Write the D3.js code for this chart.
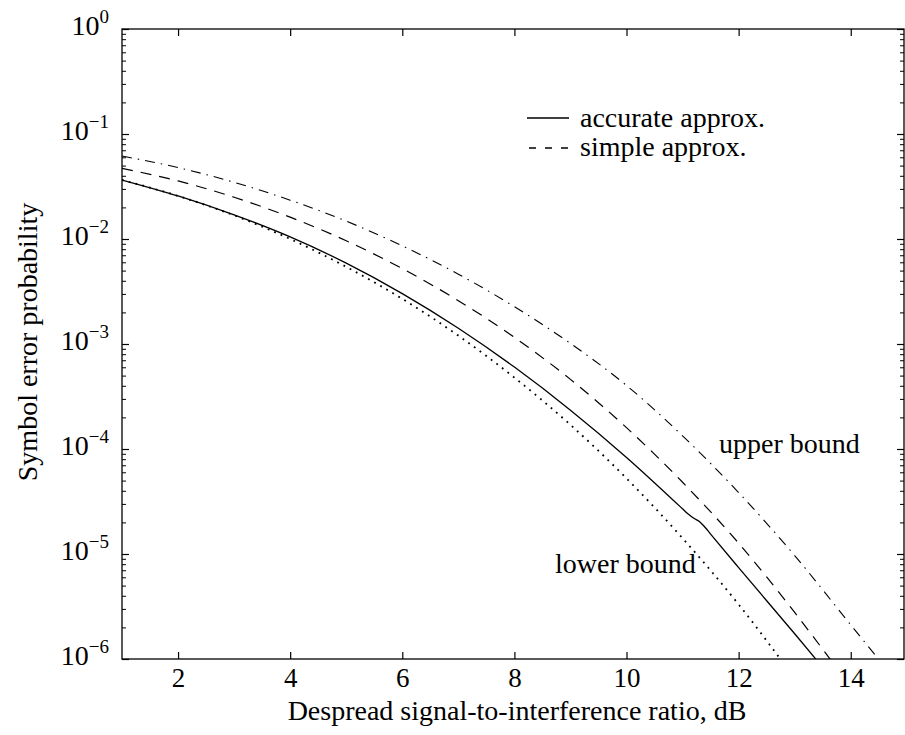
<!DOCTYPE html>
<html>
<head>
<meta charset="utf-8">
<script src="https://cdn.jsdelivr.net/npm/d3@7"></script>
<style>
  body { margin: 0; background: #fff; }
  svg { display: block; font-family: "Liberation Serif", "DejaVu Serif", serif; }
</style>
</head>
<body>
<div id="chart"></div>
<script>
// ----------------------------
// Data
// ----------------------------

// x values in dB, y values are symbol error probabilities
const accurateX = [1, 2, 3, 4, 5, 6, 7, 8, 9, 10, 11, 11.1, 11.2, 11.3, 11.4, 11.5, 12, 13, 13.5];
const accurateP = [0.03648, 0.02570, 0.01698, 0.01047, 0.005888, 0.003020, 0.001413, 6.026e-4, 2.344e-4,
                   8.318e-5, 2.692e-5, 2.399e-5, 2.188e-5, 2.042e-5, 1.799e-5, 1.549e-5, 7.413e-6,
                   1.738e-6, 8.318e-7];

const simpleX = [1, 2, 3, 4, 5, 6, 7, 8, 9, 10, 11, 12, 13, 13.7];
const simpleP = [0.04710, 0.03573, 0.02500, 0.01614, 0.009616, 0.005224, 0.002588, 0.001156, 4.603e-4,
                 1.596e-4, 4.819e-5, 1.268e-5, 2.773e-6, 8.913e-7];

const upperX = [1, 2, 3, 4, 5, 6, 7, 8, 9, 10, 11, 12, 13, 14, 14.6];
const upperP = [0.06166, 0.04786, 0.03467, 0.02344, 0.01479, 0.008610, 0.004624, 0.002265, 0.001012,
                4.027e-4, 1.334e-4, 3.846e-5, 9.661e-6, 2.113e-6, 8.511e-7];

const lowerX = [1, 2, 3, 4, 5, 6, 7, 8, 9, 10, 11, 12, 12.8];
const lowerP = [0.03648, 0.02570, 0.01679, 0.01000, 0.005433, 0.002692, 0.001202, 4.786e-4, 1.698e-4,
                5.248e-5, 1.413e-5, 3.311e-6, 9.120e-7];

const xTickValues = [2, 4, 6, 8, 10, 12, 14];
const yExponents = [0, -1, -2, -3, -4, -5, -6];

const legendLabels = ["accurate approx.", "simple approx."];

// ----------------------------
// Layout
// ----------------------------
const width = 905;
const height = 735;
const marginLeft = 122;
const marginRight = 1;
const marginTop = 29;
const marginBottom = 76;

const x = d3.scaleLinear()
    .domain([1, 14.95])
    .range([marginLeft, width - marginRight]);

const y = d3.scaleLog()
    .domain([1e-6, 1])
    .range([height - marginBottom, marginTop]);

const svg = d3.create("svg")
    .attr("width", width)
    .attr("height", height)
    .attr("viewBox", [0, 0, width, height]);

svg.append("defs").append("clipPath")
    .attr("id", "plotClip")
  .append("rect")
    .attr("x", x(1))
    .attr("y", y(1))
    .attr("width", x(14.95) - x(1))
    .attr("height", y(1e-6) - y(1));

// minor tick values for the log axis
const minorTicks = [];
yExponents.slice(1).forEach(e => {
    for (let k = 2; k <= 9; k++) minorTicks.push(k * Math.pow(10, e));
});

// ----------------------------
// Axes (ticks point inward on all four sides)
// ----------------------------
svg.append("rect")
    .attr("x", x(1))
    .attr("y", y(1))
    .attr("width", x(14.95) - x(1))
    .attr("height", y(1e-6) - y(1))
    .attr("fill", "none")
    .attr("stroke", "#000")
    .attr("stroke-width", 1.3);

// bottom axis
svg.append("g")
    .attr("transform", `translate(0,${y(1e-6)})`)
    .call(d3.axisBottom(x).tickValues(xTickValues).tickSize(-7).tickPadding(9).tickFormat(d3.format("d")))
    .call(g => g.select(".domain").remove())
    .call(g => g.selectAll("line").attr("stroke-width", 1.2))
    .call(g => g.selectAll("text").attr("font-size", 27).attr("font-family", "Liberation Serif").attr("fill", "#000"));

// top axis
svg.append("g")
    .attr("transform", `translate(0,${y(1)})`)
    .call(d3.axisTop(x).tickValues(xTickValues).tickSize(-7).tickFormat(""))
    .call(g => g.select(".domain").remove())
    .call(g => g.selectAll("line").attr("stroke-width", 1.2));

// left axis, major and minor
svg.append("g")
    .attr("transform", `translate(${x(1)},0)`)
    .call(d3.axisLeft(y).tickValues(yExponents.map(e => Math.pow(10, e))).tickSize(-7).tickFormat(""))
    .call(g => g.select(".domain").remove())
    .call(g => g.selectAll("line").attr("stroke-width", 1.2));

svg.append("g")
    .attr("transform", `translate(${x(1)},0)`)
    .call(d3.axisLeft(y).tickValues(minorTicks).tickSize(-4).tickFormat(""))
    .call(g => g.select(".domain").remove())
    .call(g => g.selectAll("line").attr("stroke-width", 1));

// right axis, major and minor
svg.append("g")
    .attr("transform", `translate(${x(14.95)},0)`)
    .call(d3.axisRight(y).tickValues(yExponents.map(e => Math.pow(10, e))).tickSize(-7).tickFormat(""))
    .call(g => g.select(".domain").remove())
    .call(g => g.selectAll("line").attr("stroke-width", 1.2));

svg.append("g")
    .attr("transform", `translate(${x(14.95)},0)`)
    .call(d3.axisRight(y).tickValues(minorTicks).tickSize(-4).tickFormat(""))
    .call(g => g.select(".domain").remove())
    .call(g => g.selectAll("line").attr("stroke-width", 1));

// y tick labels as 10 with a superscript exponent
const yLabels = svg.append("g")
    .attr("fill", "#000")
    .attr("text-anchor", "end");

yExponents.forEach(e => {
    const t = yLabels.append("text")
        .attr("x", x(1) - 13)
        .attr("y", y(Math.pow(10, e)) + 6)
        .attr("font-size", 28);
    t.append("tspan").text("10");
    t.append("tspan")
        .attr("font-size", 19)
        .attr("dy", -12)
        .text(e === 0 ? "0" : "\u2212" + Math.abs(e));
});

// axis titles
svg.append("text")
    .attr("x", 517)
    .attr("y", 720)
    .attr("text-anchor", "middle")
    .attr("font-size", 28)
    .text("Despread signal-to-interference ratio, dB");

svg.append("text")
    .attr("transform", `translate(37,${(y(1) + y(1e-6)) / 2 - 2}) rotate(-90)`)
    .attr("text-anchor", "middle")
    .attr("font-size", 28)
    .text("Symbol error probability");

// ----------------------------
// Curves
// ----------------------------
const line = d3.line()
    .x(d => x(d[0]))
    .y(d => y(d[1]))
    .curve(d3.curveMonotoneX);

const curves = [
    { xs: accurateX, ps: accurateP, dash: null, width: 1.3 },
    { xs: simpleX, ps: simpleP, dash: "11,8", width: 1.2 },
    { xs: upperX, ps: upperP, dash: "10,6,1.5,6", width: 1.1 },
    { xs: lowerX, ps: lowerP, dash: "1.8,5.2", width: 1.8 }
];

const curveGroup = svg.append("g").attr("clip-path", "url(#plotClip)");

curves.forEach(c => {
    curveGroup.append("path")
        .datum(c.xs.map((v, i) => [v, c.ps[i]]))
        .attr("d", line)
        .attr("fill", "none")
        .attr("stroke", "#000")
        .attr("stroke-width", c.width)
        .attr("stroke-dasharray", c.dash);
});

// ----------------------------
// Legend and labels
// ----------------------------
const legend = svg.append("g").attr("font-size", 28);

legend.append("line")
    .attr("x1", 527).attr("x2", 569)
    .attr("y1", 118).attr("y2", 118)
    .attr("stroke", "#000").attr("stroke-width", 1.3);
legend.append("text").attr("x", 580).attr("y", 127).text(legendLabels[0]);

legend.append("line")
    .attr("x1", 529).attr("x2", 570)
    .attr("y1", 148).attr("y2", 148)
    .attr("stroke", "#000").attr("stroke-width", 1.3)
    .attr("stroke-dasharray", "7,9");
legend.append("text").attr("x", 580).attr("y", 156).text(legendLabels[1]);

svg.append("text").attr("x", 719).attr("y", 453).attr("font-size", 28).text("upper bound");
svg.append("text").attr("x", 555).attr("y", 573).attr("font-size", 28).text("lower bound");

document.getElementById("chart").appendChild(svg.node());
</script>
</body>
</html>
